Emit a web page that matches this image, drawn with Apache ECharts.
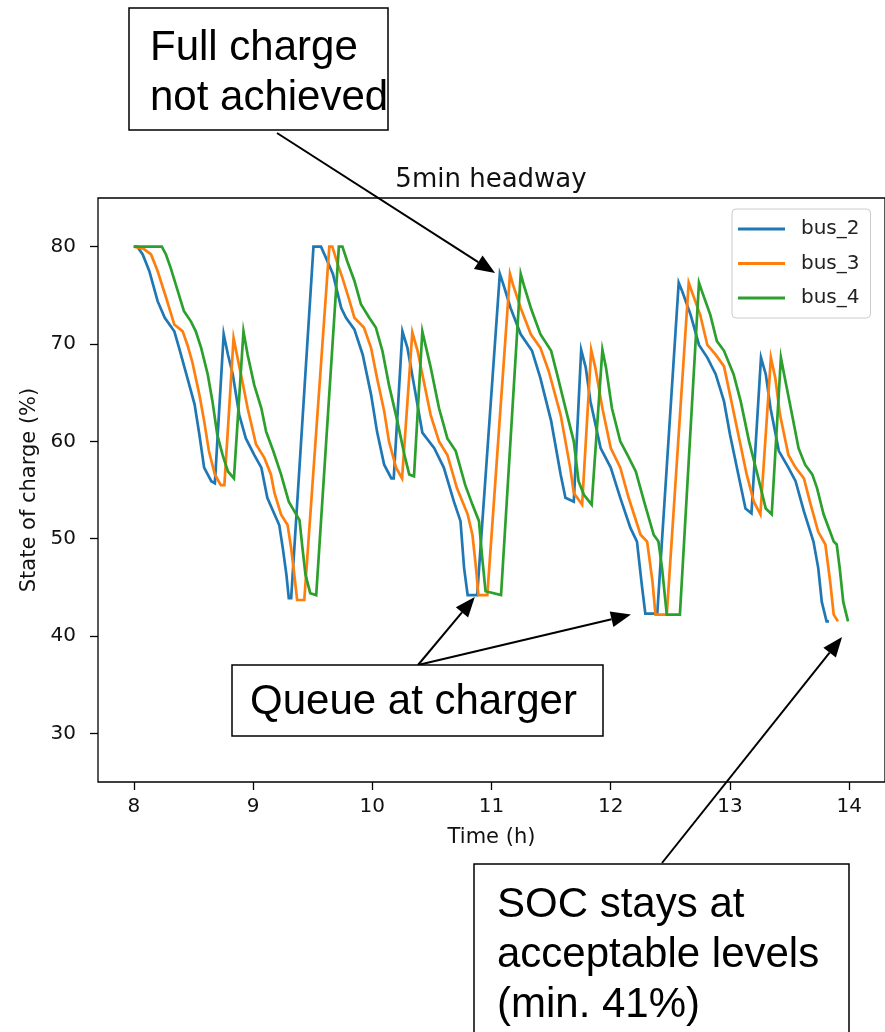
<!DOCTYPE html>
<html><head><meta charset="utf-8">
<script src="https://cdn.jsdelivr.net/npm/echarts@6/dist/echarts.min.js"></script>
<style>html,body{margin:0;padding:0;background:#fff}#c{width:885px;height:1032px}</style>
</head><body><div id="c"></div>
<script>
// ---- data ----
const seriesNames = ['bus_2', 'bus_3', 'bus_4'];
const xTicks = [8, 9, 10, 11, 12, 13, 14];
const yTicks = [30, 40, 50, 60, 70, 80];

const bus2Time = [8.0,8.03,8.075,8.13,8.20,8.26,8.34,8.38,8.45,8.51,8.55,8.59,8.65,8.68,
 8.754,8.79,8.83,8.885,8.94,9.01,9.07,9.12,9.18,9.22,9.25,9.28,9.30,9.32,
 9.507,9.57,9.61,9.67,9.74,9.78,9.85,9.92,9.99,10.04,10.10,10.16,10.18,
 10.253,10.295,10.35,10.42,10.52,10.60,10.685,10.74,10.77,10.80,10.88,
 11.07,11.10,11.16,11.245,11.34,11.41,11.50,11.58,11.62,11.69,
 11.752,11.79,11.83,11.915,12.00,12.08,12.165,12.22,12.26,12.29,12.39,
 12.57,12.60,12.67,12.74,12.81,12.88,12.95,13.00,13.07,13.13,13.18,
 13.26,13.30,13.34,13.41,13.49,13.55,13.62,13.70,13.74,13.77,13.81,13.83];
const bus2Soc = [80,80,79.2,77.5,74.4,72.7,71.3,69.6,66.5,63.8,60.7,57.3,55.9,55.7,
 71.0,68.9,66.9,62.7,60.3,58.6,57.3,54.2,52.5,51.4,49.0,46.3,43.9,43.9,
 80,80,78.9,77.2,73.7,72.7,71.5,68.9,64.8,61.0,57.6,56.2,56.2,
 71.3,69.6,65.8,60.9,59.3,57.3,53.8,51.8,47.0,44.2,44.2,
 77.2,76.1,73.7,71.0,69.3,66.5,62.1,56.6,54.2,53.8,
 69.4,67.6,64.1,59.3,57.3,54.2,51.1,49.7,45.3,42.3,42.3,
 76.3,75.4,73.0,69.9,68.6,66.9,64.1,60.7,56.6,53.1,52.6,
 68.6,66.9,63.4,59.0,57.3,55.9,52.8,49.7,47.0,43.5,41.5,41.5];

const bus3Time = [8.0,8.08,8.145,8.20,8.27,8.34,8.41,8.45,8.49,8.55,8.59,8.63,8.68,8.73,8.76,
 8.837,8.87,8.91,8.955,9.025,9.095,9.15,9.18,9.235,9.29,9.32,9.35,9.37,9.43,
 9.64,9.665,9.71,9.75,9.81,9.85,9.93,9.99,10.04,10.10,10.14,10.20,10.25,
 10.336,10.38,10.435,10.49,10.56,10.63,10.71,10.80,10.84,10.87,10.89,10.965,
 11.155,11.18,11.245,11.33,11.41,11.48,11.58,11.66,11.69,11.76,
 11.836,11.87,11.93,12.00,12.08,12.15,12.25,12.305,12.35,12.375,12.47,
 12.654,12.68,12.75,12.81,12.88,12.95,13.00,13.07,13.14,13.20,13.255,13.27,
 13.343,13.38,13.42,13.49,13.55,13.62,13.67,13.74,13.80,13.84,13.87,13.905];
const bus3Soc = [80,79.8,79.2,77.5,74.8,72.0,71.3,69.9,68.2,64.8,62.1,59.0,56.6,55.5,55.5,
 70.6,68.6,66.2,63.4,59.7,58.3,56.6,54.7,52.5,51.4,49.0,45.9,43.7,43.7,
 80,80,78.2,76.8,74.4,72.7,71.7,69.6,66.5,63.1,60.0,57.3,56.2,
 71.2,69.3,66.0,62.7,60.0,58.6,55.2,52.5,50.4,47.0,44.2,44.2,
 77.2,76.1,73.7,71.0,69.6,67.2,62.7,57.3,54.7,53.5,
 69.4,67.6,63.4,59.3,57.3,54.2,50.4,49.7,45.6,42.2,42.2,
 76.3,75.4,73.0,69.9,68.9,67.7,64.8,60.7,56.6,53.8,52.5,52.5,
 68.6,66.5,62.7,58.6,57.3,56.2,53.8,50.7,49.4,45.6,42.2,41.5];

const bus4Time = [8.0,8.235,8.27,8.31,8.37,8.42,8.48,8.52,8.565,8.62,8.66,8.70,8.745,8.79,8.84,
 8.92,8.955,9.01,9.07,9.11,9.17,9.235,9.30,9.39,9.415,9.44,9.48,9.53,
 9.72,9.75,9.79,9.85,9.905,9.975,10.03,10.085,10.14,10.21,10.27,10.31,10.35,
 10.42,10.49,10.56,10.63,10.70,10.78,10.84,10.895,10.92,10.95,11.08,
 11.245,11.27,11.33,11.41,11.50,11.55,11.635,11.69,11.73,11.775,11.84,
 11.93,11.96,12.01,12.08,12.14,12.21,12.28,12.36,12.40,12.43,12.47,12.58,
 12.74,12.765,12.835,12.89,12.95,13.03,13.09,13.16,13.23,13.30,13.35,
 13.427,13.46,13.51,13.575,13.63,13.69,13.73,13.785,13.87,13.895,13.92,13.95,13.99];
const bus4Soc = [80,80,79.2,77.8,75.4,73.4,72.3,71.3,69.6,66.9,64.1,60.7,58.6,56.9,56.2,
 71.3,68.9,65.8,63.4,61.0,59.0,56.6,53.8,51.9,49.0,46.3,44.4,44.2,
 80,80,78.5,76.5,74.1,72.7,71.7,69.3,65.8,62.1,58.6,56.6,56.4,
 71.3,67.6,63.4,60.3,59.0,55.5,53.5,51.8,48.3,44.6,44.2,
 77.2,76.1,73.7,71.0,69.3,66.9,62.7,60.0,55.9,54.5,53.5,
 69.4,67.6,63.4,60.0,58.6,56.9,53.8,50.4,49.7,47.0,42.2,42.2,
 76.3,75.4,73.0,70.3,69.3,66.9,64.1,60.0,56.6,53.1,52.5,
 68.6,66.5,63.4,59.3,57.6,56.6,55.2,52.5,49.7,49.4,47.0,43.5,41.5];

const colors = ['#1f77b4', '#ff7f0e', '#2ca02c'];
const times = [bus2Time, bus3Time, bus4Time];
const socs = [bus2Soc, bus3Soc, bus4Soc];

// annotation texts and anchor points (data coordinates of arrow tips)
const noteFull = ['Full charge', 'not achieved'];
const noteQueue = ['Queue at charger'];
const noteSoc = ['SOC stays at', 'acceptable levels', '(min. 41%)'];
const tipFull = [11.03, 77.3];
const tipQueueA = [10.86, 44.0];
const tipQueueB = [12.17, 42.2];
const tipSoc = [13.94, 39.9];

const FONT = 'DejaVu Sans';
const chart = echarts.init(document.getElementById('c'));

const series = seriesNames.map((n, i) => ({
  name: n, type: 'line', showSymbol: false, symbol: 'none',
  data: times[i].map((t, k) => [t, socs[i][k]]),
  lineStyle: { color: colors[i], width: 2.7, join: 'miter' }, itemStyle: { color: colors[i] },
  z: 2 + i
}));

chart.setOption({
  animation: false,
  backgroundColor: '#fff',
  grid: { left: 98, top: 198, width: 788, height: 584, show: true, borderColor: '#000', borderWidth: 1.3, backgroundColor: 'transparent' },
  xAxis: {
    type: 'value', min: 7.7, max: 14.3,
    axisLine: { show: false }, splitLine: { show: false },
    axisTick: { show: true, customValues: xTicks, length: 8, lineStyle: { color: '#000', width: 1.3 } },
    axisLabel: { customValues: xTicks, margin: 15, fontSize: 20, fontFamily: FONT, color: '#111' },
    name: 'Time (h)', nameLocation: 'middle', nameGap: 45,
    nameTextStyle: { fontSize: 21, fontFamily: FONT, color: '#111' }
  },
  yAxis: {
    type: 'value', min: 25, max: 85,
    axisLine: { show: false }, splitLine: { show: false },
    axisTick: { show: true, customValues: yTicks, length: 8, lineStyle: { color: '#000', width: 1.3 } },
    axisLabel: { customValues: yTicks, margin: 22, fontSize: 20, fontFamily: FONT, color: '#111' },
    name: 'State of charge (%)', nameLocation: 'middle', nameGap: 55, nameRotate: 90,
    nameTextStyle: { fontSize: 21, fontFamily: FONT, color: '#111' }
  },
  legend: {
    orient: 'vertical', left: 732, top: 209, padding: [10, 11, 10, 6], itemGap: 14.5,
    itemWidth: 47, itemHeight: 3, icon: 'rect',
    backgroundColor: 'rgba(255,255,255,0.8)', borderColor: '#cccccc', borderWidth: 1, borderRadius: 4,
    textStyle: { fontSize: 20, fontFamily: FONT, color: '#222', padding: [0, 0, 0, 11] },
    data: seriesNames
  },
  series: series
});

function arrow(x1, y1, x2, y2) {
  const dx = x2 - x1, dy = y2 - y1, L = Math.hypot(dx, dy);
  const ux = dx / L, uy = dy / L, hl = 20, hw = 8;
  const bx = x2 - ux * hl, by = y2 - uy * hl;
  return [
    { type: 'line', shape: { x1: x1, y1: y1, x2: bx, y2: by }, style: { stroke: '#000', lineWidth: 2 }, z: 100 },
    { type: 'polygon', shape: { points: [[x2, y2], [bx - uy * hw, by + ux * hw], [bx + uy * hw, by - ux * hw]] }, style: { fill: '#000' }, z: 100 }
  ];
}
function box(x, y, w, h, lines, tx, ty, lh) {
  const els = [{ type: 'rect', shape: { x: x, y: y, width: w, height: h }, style: { fill: '#fff', stroke: '#000', lineWidth: 1.5 }, z: 100 }];
  lines.forEach((s, i) => els.push({ type: 'text', x: tx, y: ty + i * lh, z: 101,
    style: { text: s, fill: '#000', fontSize: 42, fontFamily: 'Liberation Sans', align: 'left', verticalAlign: 'middle' } }));
  return els;
}
const p = (d) => chart.convertToPixel({ gridIndex: 0 }, d);
const pf = p(tipFull), pqa = p(tipQueueA), pqb = p(tipQueueB), ps = p(tipSoc);

let g = [];
g.push({ type: 'text', x: 491, y: 180, style: { text: '5min headway', fontSize: 26, fontFamily: FONT, fill: '#111', align: 'center', verticalAlign: 'middle' } });
g = g.concat(arrow(277, 133, pf[0], pf[1]));
g = g.concat(arrow(418, 665, pqa[0], pqa[1]));
g = g.concat(arrow(418, 665, pqb[0], pqb[1]));
g = g.concat(arrow(662, 863, ps[0], ps[1]));
g = g.concat(box(129, 8, 259, 122, noteFull, 150, 48, 50));
g = g.concat(box(232, 665, 371, 71, noteQueue, 250, 702, 50));
g = g.concat(box(474, 864, 375, 200, noteSoc, 497, 905, 50));
chart.setOption({ graphic: g });
</script></body></html>
